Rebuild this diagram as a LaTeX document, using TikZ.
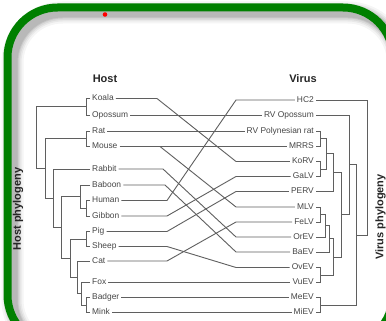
\documentclass[tikz,border=0pt]{standalone}
\usepackage{fontspec}
\setmainfont{Liberation Sans}
\definecolor{framegreen}{RGB}{0,128,0}
\definecolor{inkgray}{RGB}{95,95,95}
\definecolor{labelgray}{RGB}{70,70,70}
\tikzset{
  lbl/.style={font=\fontsize{8.4}{10}\selectfont, text=labelgray, inner sep=2pt,
              text height=6pt, text depth=1.6pt},
  hostlbl/.style={lbl, anchor=west},
  virlbl/.style={lbl, anchor=east},
  branch/.style={draw=inkgray, line width=0.9pt},
  link/.style={draw=inkgray, line width=0.9pt},
  heading/.style={font=\bfseries\fontsize{11}{13}\selectfont, text=black!85, inner sep=0pt},
}
% one clade: first child -> vertical at the node's x -> second child
\newcommand\cladeline[3]{\draw[branch] (#1) -- (#1 -| #2) -- (#3 -| #2) -- (#3);}
\begin{document}
\begin{tikzpicture}[x=1pt,y=-1pt]
\useasboundingbox (0,0) rectangle (386,321);
\clip (0,0) rectangle (386,321);
\fill[white] (0,0) rectangle (386,321);

% soft shadow of the frame
\begin{scope}[shift={(5,5)}]
  \foreach \w/\o in {22/0.04,18/0.05,15/0.06,12/0.08,10/0.08}{
    \draw[line width=\w pt, black, opacity=\o, rounded corners=50pt] (7.5,7.5) rectangle (393,345);
  }
\end{scope}
% green frame
\draw[line width=8pt, framegreen, rounded corners=50pt] (7.5,7.5) rectangle (393,345);
\fill[red] (105,14.5) circle (2.3pt);

% headings
\node[heading] (tHost) at (105,79) {Host};
\node[heading] (tVirus) at (303,79) {Virus};
\node[heading, rotate=90] (tHostPhy) at (18,209) {Host phylogeny};
\node[heading, rotate=90] (tVirPhy) at (380.5,217) {Virus phylogeny};

% host taxa
\node[hostlbl] (hKoala)   at (90,98.5)  {Koala};
\node[hostlbl] (hOpossum) at (90,115)   {Opossum};
\node[hostlbl] (hRat)     at (90,131)   {Rat};
\node[hostlbl] (hMouse)   at (90,146.5) {Mouse};
\node[hostlbl] (hRabbit)  at (90,169)   {Rabbit};
\node[hostlbl] (hBaboon)  at (90,185)   {Baboon};
\node[hostlbl] (hHuman)   at (90,200.5) {Human};
\node[hostlbl] (hGibbon)  at (90,216)   {Gibbon};
\node[hostlbl] (hPig)     at (90,231.5) {Pig};
\node[hostlbl] (hSheep)   at (90,246.5) {Sheep};
\node[hostlbl] (hCat)     at (90,261)   {Cat};
\node[hostlbl] (hFox)     at (90,282.5) {Fox};
\node[hostlbl] (hBadger)  at (90,297.5) {Badger};
\node[hostlbl] (hMink)    at (90,312.5) {Mink};

% virus taxa
\node[virlbl] (vHC2)   at (316,100)   {HC2};
\node[virlbl] (vRVO)   at (316,115)   {RV Opossum};
\node[virlbl] (vRVPR)  at (316,131)   {RV Polynesian rat};
\node[virlbl] (vMRRS)  at (316,146.5) {MRRS};
\node[virlbl] (vKoRV)  at (316,161.5) {KoRV};
\node[virlbl] (vGaLV)  at (316,176.5) {GaLV};
\node[virlbl] (vPERV)  at (316,191.5) {PERV};
\node[virlbl] (vMLV)   at (316,207)   {MLV};
\node[virlbl] (vFeLV)  at (316,222)   {FeLV};
\node[virlbl] (vOrEV)  at (316,237)   {OrEV};
\node[virlbl] (vBaEV)  at (316,252)   {BaEV};
\node[virlbl] (vOvEV)  at (316,267.5) {OvEV};
\node[virlbl] (vVuEV)  at (316,282.5) {VuEV};
\node[virlbl] (vMeEV)  at (316,297.5) {MeEV};
\node[virlbl] (vMiEV)  at (316,312.5) {MiEV};

% host tree
\coordinate (nKO) at (86,106.75);
\coordinate (nRM) at (86,138.75);
\coordinate (nHG) at (86,208.25);
\coordinate (nPS) at (86,239);
\coordinate (nBM) at (86,305);
\coordinate (nP)  at (80.5,196.6);
\coordinate (nR)  at (81,293.75);
\coordinate (nQ)  at (77,277.4);
\coordinate (nL)  at (70,258.2);
\coordinate (nD)  at (61.5,227.4);
\coordinate (nC)  at (53,198.2);
\coordinate (nB)  at (45,168.5);
\coordinate (nRoot) at (36,137.6);
\cladeline{hKoala.west}{nKO}{hOpossum.west}
\cladeline{hRat.west}{nRM}{hMouse.west}
\cladeline{hHuman.west}{nHG}{hGibbon.west}
\cladeline{hPig.west}{nPS}{hSheep.west}
\cladeline{hBadger.west}{nBM}{hMink.west}
\cladeline{hBaboon.west}{nP}{nHG}
\cladeline{hFox.west}{nR}{nBM}
\cladeline{hCat.west}{nQ}{nR}
\cladeline{nPS}{nL}{nQ}
\cladeline{nP}{nD}{nL}
\cladeline{hRabbit.west}{nC}{nD}
\cladeline{nRM}{nB}{nC}
\cladeline{nKO}{nRoot}{nB}

% virus tree
\coordinate (va) at (320,138.75);
\coordinate (vb) at (320,169);
\coordinate (vc) at (326.5,153.9);
\coordinate (vd) at (333.5,172.7);
\coordinate (ve) at (320,214.5);
\coordinate (vf) at (325,225.75);
\coordinate (vg) at (329,238.9);
\coordinate (vh) at (320,275);
\coordinate (vi) at (333,256.95);
\coordinate (vj) at (341,214.8);
\coordinate (vk) at (349,164.9);
\coordinate (vm) at (320,305);
\coordinate (vn) at (356,234.95);
\coordinate (vroot) at (367,167.5);
\cladeline{vRVPR.east}{va}{vMRRS.east}
\cladeline{vKoRV.east}{vb}{vGaLV.east}
\cladeline{va}{vc}{vb}
\cladeline{vc}{vd}{vPERV.east}
\cladeline{vMLV.east}{ve}{vFeLV.east}
\cladeline{ve}{vf}{vOrEV.east}
\cladeline{vf}{vg}{vBaEV.east}
\cladeline{vOvEV.east}{vh}{vVuEV.east}
\cladeline{vg}{vi}{vh}
\cladeline{vd}{vj}{vi}
\cladeline{vRVO.east}{vk}{vj}
\cladeline{vMeEV.east}{vm}{vMiEV.east}
\cladeline{vk}{vn}{vm}
\cladeline{vHC2.east}{vroot}{vn}

% host-virus associations
\coordinate (bK)  at (157,0);
\coordinate (bM)  at (160,0);
\coordinate (bRb) at (163,0);
\coordinate (bBa) at (165,0);
\coordinate (bX)  at (167,0);
\coordinate (eR)  at (236,0);
\draw[link] (hKoala.east) -- (hKoala.east -| bK) -- (vKoRV.west -| eR) -- (vKoRV.west);
\draw[link] (hOpossum.east) -- (vRVO.west);
\draw[link] (hRat.east) -- (vRVPR.west);
\draw[link] (hMouse.east) -- (vMRRS.west);
\draw[link] (hMouse.east -| bM) -- (vMLV.west -| eR) -- (vMLV.west);
\draw[link] (hRabbit.east) -- (hRabbit.east -| bRb) -- (vOrEV.west -| eR) -- (vOrEV.west);
\draw[link] (hBaboon.east) -- (hBaboon.east -| bBa) -- (vBaEV.west -| eR) -- (vBaEV.west);
\draw[link] (hHuman.east) -- (hHuman.east -| bX) -- (vHC2.west -| eR) -- (vHC2.west);
\draw[link] (hGibbon.east) -- (hGibbon.east -| bX) -- (vGaLV.west -| eR) -- (vGaLV.west);
\draw[link] (hPig.east) -- (hPig.east -| bX) -- (vPERV.west -| eR) -- (vPERV.west);
\draw[link] (hSheep.east) -- (hSheep.east -| bX) -- (vOvEV.west -| eR) -- (vOvEV.west);
\draw[link] (hCat.east) -- (hCat.east -| bX) -- (vFeLV.west -| eR) -- (vFeLV.west);
\draw[link] (hFox.east) -- (vVuEV.west);
\draw[link] (hBadger.east) -- (vMeEV.west);
\draw[link] (hMink.east) -- (vMiEV.west);
\end{tikzpicture}
\end{document}
